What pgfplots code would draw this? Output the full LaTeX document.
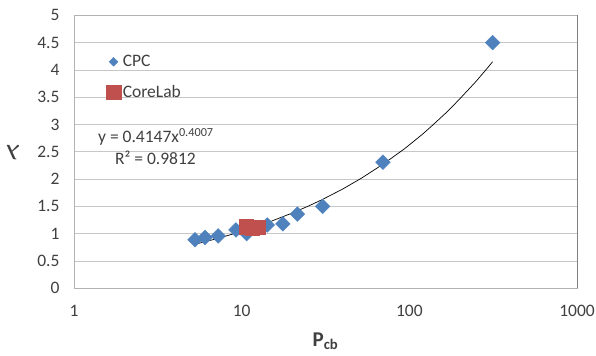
\documentclass[border=0pt]{standalone}
\usepackage{amsmath}
\usepackage{fontspec}
\setmainfont{Carlito}
\usepackage{pgfplots}
\pgfplotsset{compat=1.18}
\definecolor{cpcblue}{HTML}{4F81BD}
\definecolor{labred}{HTML}{C0504D}
\definecolor{ticktext}{HTML}{404040}
\newcommand{\chartfont}{\fontsize{17.5bp}{21bp}\selectfont}
\pgfplotsset{
  dotlegend/.style={legend image code/.code={\draw[##1] plot coordinates {(0bp,0bp)};}},
}

\begin{document}
\begin{tikzpicture}
\useasboundingbox (-74bp,-67.7bp) rectangle (522bp,288.3bp);
\begin{axis}[
  at={(0,0)}, anchor=south west,
  scale only axis, width=503bp, height=273bp,
  xmode=log, log basis x=10,
  xmin=1, xmax=1000, ymin=0, ymax=5,
  xtick={1,10,100,1000}, xticklabels={1,10,100,1000},
  ytick={0,0.5,1,1.5,2,2.5,3,3.5,4,4.5,5},
  yticklabels={0,0.5,1,1.5,2,2.5,3,3.5,4,4.5,5},
  major tick length=0pt, minor tick num=0,
  ymajorgrids, xmajorgrids=false,
  grid style={draw=black!22, line width=0.8bp},
  axis line style={draw=black!30, line width=0.8bp},
  tick label style={font=\chartfont, text=ticktext},
  yticklabel style={xshift=-11bp},
  xticklabel style={yshift=-13bp},
  xlabel={\textbf{P}\textsubscript{\textbf{cb}}},
  xlabel style={at={(axis description cs:0.5,-0.195)}, anchor=center,
    font=\fontsize{21bp}{24bp}\selectfont, text=ticktext},
  ylabel={$\boldsymbol{\lambda}$},
  ylabel style={at={(axis description cs:-0.1207,0.4956)}, anchor=center,
    rotate=90, font=\fontsize{19bp}{22bp}\selectfont, text=ticktext},
  legend style={at={(axis description cs:0.058,0.865)}, anchor=north west,
    draw=none, fill=none, font=\chartfont, text=ticktext,
    row sep=15bp, column sep=1bp, nodes={inner sep=1bp}},
  legend cell align=left,
  clip=false,
]
% CPC measurements
\addplot[only marks, mark=square*, mark size=5.2bp,
  mark options={rotate=45, fill=cpcblue, draw=cpcblue},
  dotlegend,
  legend image post style={mark size=3.1bp}]
  coordinates {
  (5.27,0.89) (6.04,0.93) (7.25,0.96) (9.25,1.07) (10.7,1.00)
  (14.2,1.16) (17.6,1.18) (21.5,1.36) (30.4,1.50) (69.6,2.31) (314,4.50)
  };
\addlegendentry{CPC}
% CoreLab measurements
\addplot[only marks, mark=square*, mark size=7.2bp,
  mark options={fill=labred, draw=labred},
  dotlegend]
  coordinates {
  (10.65,1.13) (11.6,1.11) (12.6,1.12)
  };
\addlegendentry{CoreLab}
% power-law trendline
\addplot[black, line width=0.7bp, forget plot]
  coordinates {
  (5.27,0.807) (6,0.850) (7,0.904) (8.5,0.978) (10,1.043) (12,1.122)
  (15,1.228) (20,1.378) (25,1.506) (30,1.620) (40,1.817) (52,2.02)
  (70,2.277) (94,2.56) (120,2.824) (138,2.99) (170,3.247) (200,3.47)
  (250,3.79) (286,4.00) (314,4.15)
  };
\node[font=\chartfont, text=ticktext] at (axis cs:3.08,2.777)
  {y = 0.4147x\textsuperscript{0.4007}};
\node[font=\chartfont, text=ticktext] at (axis cs:3.06,2.386)
  {R² = 0.9812};
\draw[black!50, line width=0.8bp] (rel axis cs:1,0) -- (rel axis cs:1,1);
\end{axis}
\end{tikzpicture}
\end{document}
